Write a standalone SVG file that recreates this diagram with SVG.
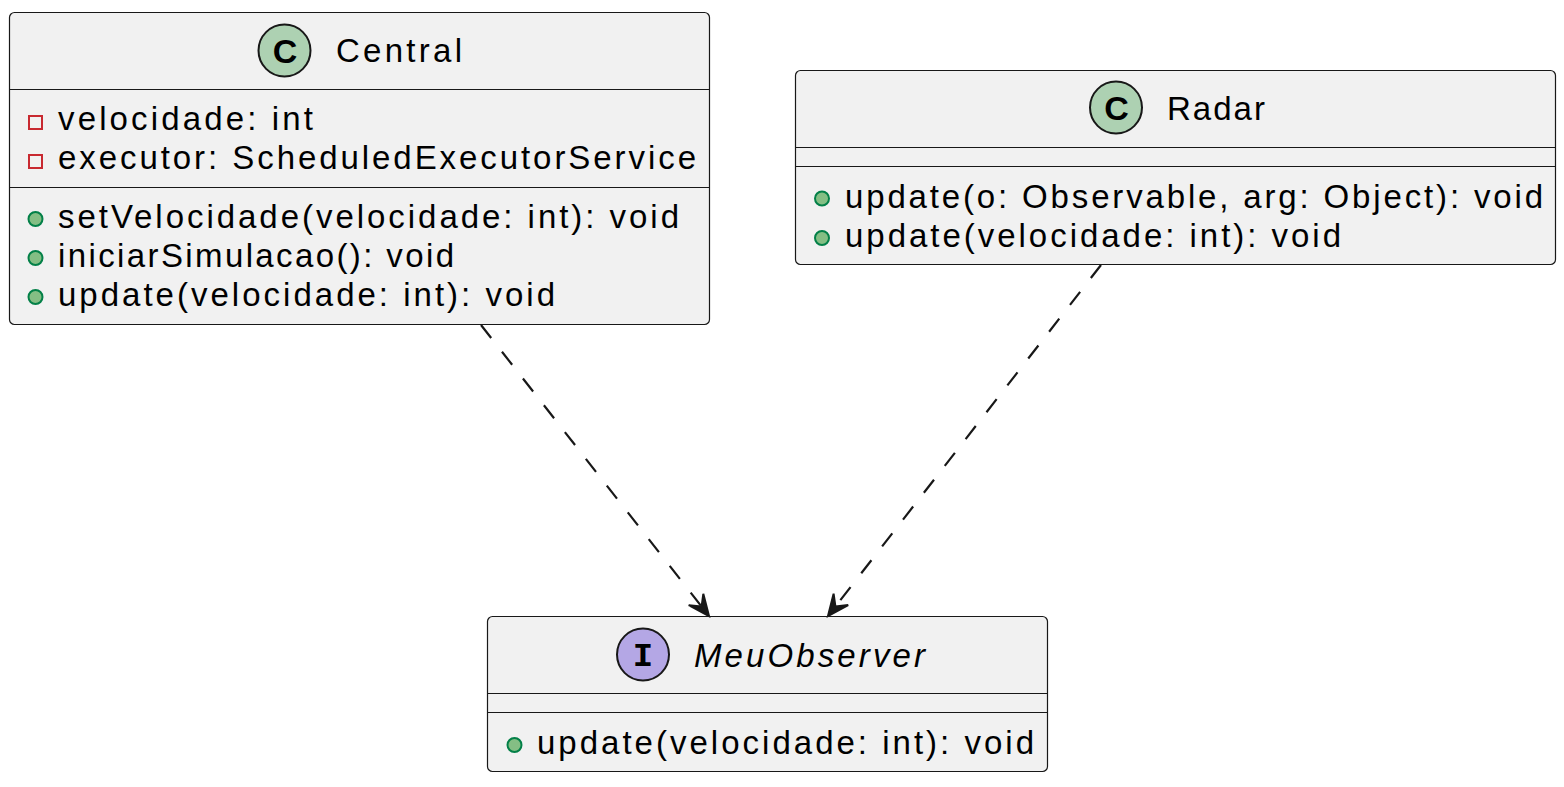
<svg xmlns="http://www.w3.org/2000/svg" width="1564" height="787" viewBox="0 0 1564 787">
<defs>
<style>
.box{fill:#F1F1F1;stroke:#181818;stroke-width:1.2}
.sep{stroke:#181818;stroke-width:1.2}
.txt{font-family:"Liberation Sans",Arial,sans-serif;font-size:33px;fill:#000000}
.title{font-family:"Liberation Sans",Arial,sans-serif;font-size:33px;fill:#000000}
.spotC{fill:#ADD1B2;stroke:#181818;stroke-width:2}
.spotI{fill:#B4A7E5;stroke:#181818;stroke-width:2}
.spotTxt{font-family:"Liberation Sans",Arial,sans-serif;font-size:34px;font-weight:bold;fill:#000000}
.priv{fill:none;stroke:#C82930;stroke-width:2}
.pub{fill:#84BE84;stroke:#038048;stroke-width:2}
.edge{fill:none;stroke:#181818;stroke-width:2.2;stroke-dasharray:16.5,17.5}
.head{fill:#181818;stroke:#181818;stroke-width:2;stroke-linejoin:miter}
</style>
</defs>
<rect width="1564" height="787" fill="#FFFFFF"/>
<g id="Central">
<rect class="box" x="9.5" y="12.5" width="700" height="312" rx="5" ry="5"/>
<circle class="spotC" cx="284.5" cy="50.5" r="26"/>
<text class="spotTxt" x="285" y="62.5" text-anchor="middle">C</text>
<text class="title" x="336" y="62" textLength="126" lengthAdjust="spacing">Central</text>
<line class="sep" x1="10" y1="89.5" x2="709" y2="89.5"/>
<rect class="priv" x="29" y="116" width="13" height="13"/>
<text class="txt" x="58" y="130" textLength="255" lengthAdjust="spacing">velocidade: int</text>
<rect class="priv" x="29" y="155" width="13" height="13"/>
<text class="txt" x="58" y="169" textLength="638" lengthAdjust="spacing">executor: ScheduledExecutorService</text>
<line class="sep" x1="10" y1="187.5" x2="709" y2="187.5"/>
<circle class="pub" cx="35.5" cy="219" r="7"/>
<text class="txt" x="58" y="228" textLength="621" lengthAdjust="spacing">setVelocidade(velocidade: int): void</text>
<circle class="pub" cx="35.5" cy="258" r="7"/>
<text class="txt" x="58" y="267" textLength="396" lengthAdjust="spacing">iniciarSimulacao(): void</text>
<circle class="pub" cx="35.5" cy="297" r="7"/>
<text class="txt" x="58" y="306" textLength="497" lengthAdjust="spacing">update(velocidade: int): void</text>
</g>
<g id="Radar">
<rect class="box" x="795.5" y="70.5" width="760" height="194" rx="5" ry="5"/>
<circle class="spotC" cx="1116" cy="107.5" r="26"/>
<text class="spotTxt" x="1116.5" y="119.5" text-anchor="middle">C</text>
<text class="title" x="1167" y="120" textLength="98" lengthAdjust="spacing">Radar</text>
<line class="sep" x1="796" y1="147.5" x2="1555" y2="147.5"/>
<line class="sep" x1="796" y1="166.5" x2="1555" y2="166.5"/>
<circle class="pub" cx="822" cy="198.5" r="7"/>
<text class="txt" x="845" y="208" textLength="698" lengthAdjust="spacing">update(o: Observable, arg: Object): void</text>
<circle class="pub" cx="822" cy="238" r="7"/>
<text class="txt" x="845" y="247" textLength="496" lengthAdjust="spacing">update(velocidade: int): void</text>
</g>
<g id="MeuObserver">
<rect class="box" x="487.5" y="616.5" width="560" height="155" rx="5" ry="5"/>
<circle class="spotI" cx="643" cy="654.5" r="26"/>
<text x="643" y="666" text-anchor="middle" style="font-family:'Liberation Mono','Courier New',monospace;font-size:34px;font-weight:bold;fill:#000000">I</text>
<text class="title" x="694" y="667" textLength="231" lengthAdjust="spacing" font-style="italic">MeuObserver</text>
<line class="sep" x1="488" y1="693.5" x2="1047" y2="693.5"/>
<line class="sep" x1="488" y1="712.5" x2="1047" y2="712.5"/>
<circle class="pub" cx="514.5" cy="745" r="7"/>
<text class="txt" x="537" y="754" textLength="497" lengthAdjust="spacing">update(velocidade: int): void</text>
</g>
<g id="connectors">
<path class="edge" d="M481,325 L701.6,606.6"/>
<polygon class="head" points="709,616 688.7,605.2 701.6,606.6 703.3,593.8"/>
<path class="edge" d="M1101,265 L835.4,606.5"/>
<polygon class="head" points="828,616 833.6,593.7 835.4,606.5 848.2,605.1"/>
</g>
</svg>
